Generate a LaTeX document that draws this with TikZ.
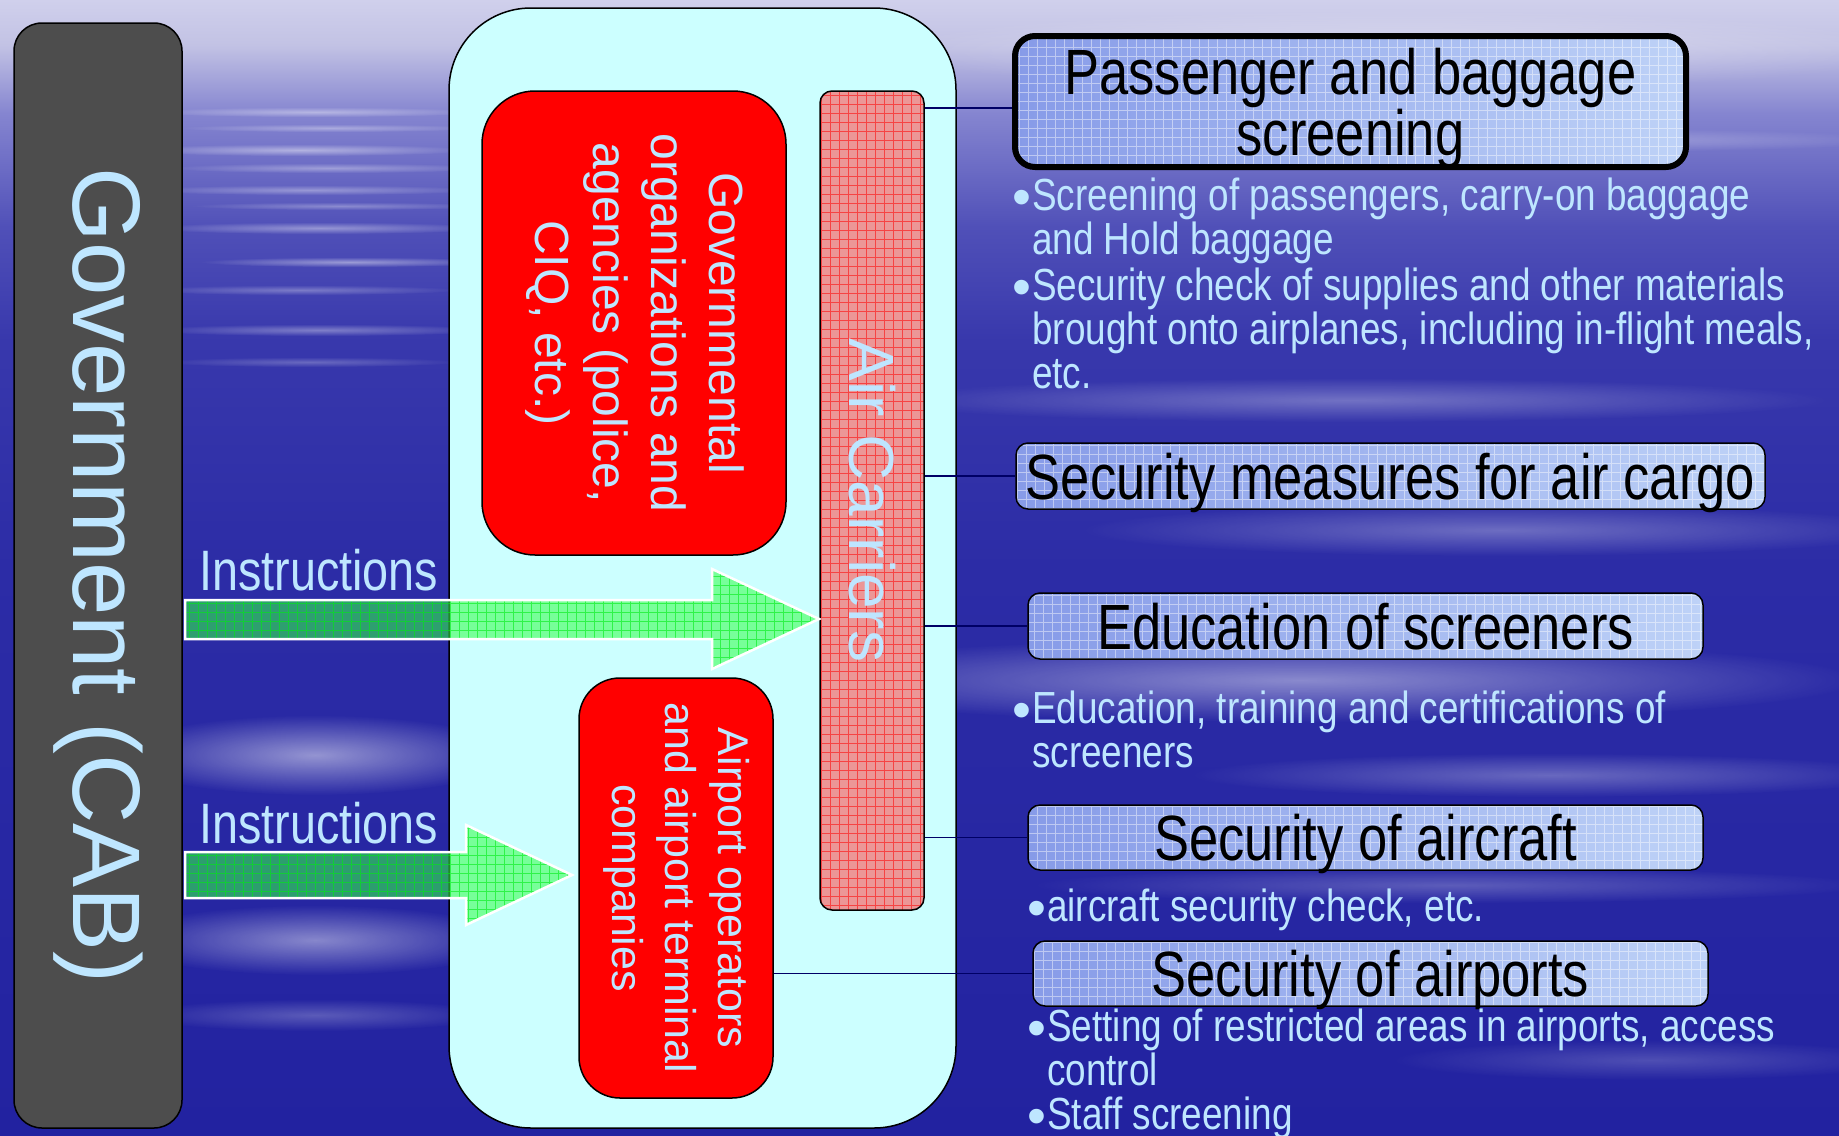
\documentclass[tikz,border=0pt]{standalone}
\usepackage{fontspec}
\setmainfont{Liberation Sans}
\newfontfamily\narrowfont[FakeStretch=0.82]{Liberation Sans}
\usetikzlibrary{fadings}

\definecolor{paleblue}{RGB}{190,230,255}
\definecolor{govgrey}{RGB}{77,77,77}
\definecolor{panelcyan}{RGB}{204,255,255}
\definecolor{linknavy}{RGB}{0,0,102}
\definecolor{tagleft}{RGB}{135,155,232}
\definecolor{tagright}{RGB}{190,210,247}
\definecolor{carrierpink}{RGB}{236,150,150}
\definecolor{arrowgreen}{RGB}{50,255,70}
\definecolor{arrowgrid}{RGB}{0,235,20}
\definecolor{sky0}{RGB}{34,34,160}
\definecolor{sky50}{RGB}{44,44,166}
\definecolor{sky70}{RGB}{56,56,172}
\definecolor{sky80}{RGB}{80,80,184}
\definecolor{sky90}{RGB}{133,133,208}
\definecolor{sky96}{RGB}{194,194,228}
\definecolor{sky100}{RGB}{208,208,236}

% sky behind everything, bottom to top
\pgfdeclareverticalshading{sky}{100bp}{%
  color(0bp)=(sky0); color(25bp)=(sky0); color(50bp)=(sky50);
  color(60bp)=(sky70); color(65bp)=(sky80); color(70bp)=(sky90);
  color(73bp)=(sky96); color(75bp)=(sky100); color(100bp)=(sky100)}
\tikzfading[name=softspot, inner color=transparent!0, outer color=transparent!100]

\newcommand{\dotitem}{\makebox[20pt][l]{\raisebox{-5pt}{\normalfont\fontsize{54}{54}\selectfont\textbullet}}}
\newcommand{\runon}{\hspace*{20pt}}

\begin{document}
\begin{tikzpicture}[x=1pt,y=-1pt]
\tikzset{
  every node/.style={inner sep=0pt},
  gridded/.style={path picture={\draw[step=9pt, #1] (path picture bounding box.south west) grid (path picture bounding box.north east);}},
  wisp/.style={fill=white, opacity=#1, path fading=softspot},
  gov/.style={draw=black, line width=1.5, fill=govgrey, rounded corners=28, text=paleblue, font=\fontsize{96}{110}\selectfont},
  panel/.style={draw=black, line width=1.5, fill=panelcyan, rounded corners=82},
  agency/.style={draw=black, line width=1.5, fill=red, text=paleblue},
  carrier/.style={draw=black, line width=1.5, fill=carrierpink, rounded corners=12, gridded={red, line width=0.8, opacity=.55}, text=paleblue, font=\fontsize{64}{70}\selectfont},
  instr/.style={draw=white, line width=2.5, fill=arrowgreen, fill opacity=.55, gridded={arrowgrid, line width=0.8, opacity=.6}},
  instrtext/.style={anchor=west, text=paleblue, font=\narrowfont\fontsize{57}{60}\selectfont},
  heading/.style={draw=black, line width=1.5, rounded corners=12, left color=tagleft, right color=tagright, gridded={white, line width=0.8, opacity=.45}, text=black, align=center, text depth=0pt, font=\narrowfont\fontsize{64}{56}\selectfont},
  link/.style={draw=linknavy, line width=1.5},
  note/.style={anchor=north west, align=left, text=paleblue, font=\narrowfont\fontsize{45}{44}\selectfont}
}
\useasboundingbox (0,0) rectangle (1839,1135);
\shade[shading=sky] (0,0) rectangle (1839,1135);
% thin streaks up left
\fill[wisp=.40] (315,112) ellipse [x radius=170, y radius=5];
\fill[wisp=.35] (330,128) ellipse [x radius=150, y radius=4];
\fill[wisp=.45] (300,150) ellipse [x radius=170, y radius=6];
\fill[wisp=.35] (330,168) ellipse [x radius=160, y radius=5];
\fill[wisp=.35] (310,190) ellipse [x radius=170, y radius=5];
\fill[wisp=.30] (340,206) ellipse [x radius=150, y radius=4];
\fill[wisp=.40] (320,228) ellipse [x radius=170, y radius=6];
\fill[wisp=.45] (350,262) ellipse [x radius=150, y radius=5];
\fill[wisp=.30] (300,290) ellipse [x radius=160, y radius=5];
\fill[wisp=.35] (320,330) ellipse [x radius=170, y radius=6];
\fill[wisp=.25] (310,362) ellipse [x radius=150, y radius=5];
% broad light bands
\fill[wisp=.50] (315,755) ellipse [x radius=200, y radius=40];
\fill[wisp=.45] (315,940) ellipse [x radius=200, y radius=35];
\fill[wisp=.25] (315,1015) ellipse [x radius=180, y radius=16];
\fill[wisp=.35] (1400,50) ellipse [x radius=520, y radius=40];
\fill[wisp=.30] (1550,140) ellipse [x radius=350, y radius=12];
\fill[wisp=.30] (1350,400) ellipse [x radius=480, y radius=22];
\fill[wisp=.30] (1500,530) ellipse [x radius=420, y radius=26];
\fill[wisp=.45] (1300,680) ellipse [x radius=560, y radius=42];
\fill[wisp=.30] (1550,775) ellipse [x radius=360, y radius=22];
\fill[wisp=.25] (1450,885) ellipse [x radius=420, y radius=18];
\fill[wisp=.20] (1650,1060) ellipse [x radius=260, y radius=20];

% left column and the middle panel
\node[gov, minimum width=168, minimum height=1105] (gov) at (98,575.5) {\rotatebox{-90}{Government (CAB)}};
\node[panel, minimum width=507, minimum height=1120] (panel) at (702.5,568) {};
\node[agency, rounded corners=53, minimum width=304, minimum height=464, font=\fontsize{48}{58}\selectfont] (gvo) at (634,323)
  {\rotatebox{-90}{\begin{tabular}{@{}c@{}}Governmental\\organizations and\\agencies (police,\\CIQ, etc.)\end{tabular}}};
\node[agency, rounded corners=41, minimum width=194, minimum height=420, font=\fontsize{43}{53}\selectfont] (apt) at (676,888)
  {\rotatebox{-90}{\begin{tabular}{@{}c@{}}Airport operators\\and airport terminal\\companies\end{tabular}}};
\node[carrier, minimum width=104, minimum height=819] (ac) at (872,500.5) {\rotatebox{-90}{Air Carriers}};

% instruction arrows
\draw[instr] (185,600) -- (712,600) -- (712,569) -- (819,619) -- (712,669) -- (712,639) -- (185,639) -- cycle;
\draw[instr] (185,852) -- (466,852) -- (466,825) -- (572,875) -- (466,925) -- (466,898) -- (185,898) -- cycle;
\node[instrtext] (i1) at (199,570) {Instructions};
\node[instrtext] (i2) at (199,823) {Instructions};

% duties on the right
\node[heading, line width=6, rounded corners=20, minimum width=671, minimum height=131] (h1) at (1350.5,101.5) {Passenger and baggage\\screening};
\node[heading, minimum width=749, minimum height=66] (h2) at (1390.5,476) {Security measures for air cargo};
\node[heading, minimum width=675, minimum height=66] (h3) at (1365.5,626) {Education of screeners};
\node[heading, minimum width=675, minimum height=65] (h4) at (1365.5,837.5) {Security of aircraft};
\node[heading, minimum width=675, minimum height=65] (h5) at (1370.5,973.5) {Security of airports};

\draw[link] ([yshift=-6.5pt]h1.west -| ac.east) -- ([yshift=-6.5pt]h1.west);
\draw[link] (h2.west -| ac.east) -- (h2.west);
\draw[link] (h3.west -| ac.east) -- (h3.west);
\draw[link] (h4.west -| ac.east) -- (h4.west);
\draw[link] (h5.west -| apt.east) -- (h5.west);

\node[note] (n1) at (1012,178) {\dotitem Screening of passengers, carry-on baggage\\\runon and Hold baggage};
\node[note] (n2) at (1012,268) {\dotitem Security check of supplies and other materials\\\runon brought onto airplanes, including in-flight meals,\\\runon etc.};
\node[note] (n3) at (1012,691) {\dotitem Education, training and certifications of\\\runon screeners};
\node[note] (n4) at (1027,889) {\dotitem aircraft security check, etc.};
\node[note] (n5) at (1027,1009) {\dotitem Setting of restricted areas in airports, access\\\runon control\\\dotitem Staff screening};
\end{tikzpicture}
\end{document}
